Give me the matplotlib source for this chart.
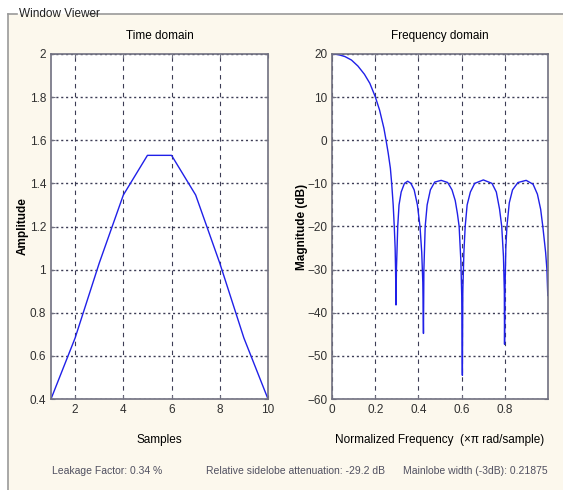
import matplotlib
matplotlib.use("Agg")
import matplotlib.pyplot as plt
from matplotlib.patches import Rectangle
from matplotlib.lines import Line2D

plt.rcParams['font.family'] = ['Liberation Sans', 'DejaVu Sans']

# time domain window samples
samples = [1, 2, 3, 4, 5, 6, 7, 8, 9, 10]
amplitude = [0.40, 0.683, 1.03, 1.346, 1.53, 1.53, 1.346, 1.03, 0.683, 0.40]

# frequency response
freq = [0.0, 0.03, 0.06, 0.09, 0.12, 0.15, 0.175, 0.2, 0.22, 0.24, 0.25, 0.26, 0.27,
        0.276, 0.283, 0.288, 0.292, 0.294, 0.296,
        0.298, 0.304, 0.31, 0.32, 0.335, 0.35, 0.365, 0.38, 0.395, 0.407, 0.415, 0.42, 0.423,
        0.425, 0.431, 0.44, 0.455, 0.475, 0.505, 0.535, 0.555, 0.57, 0.58, 0.588, 0.596, 0.6, 0.603,
        0.605, 0.61, 0.616, 0.625, 0.64, 0.66, 0.70, 0.74, 0.76, 0.775, 0.785, 0.793, 0.797, 0.798,
        0.80, 0.804, 0.809, 0.82, 0.835, 0.86, 0.898, 0.93, 0.95, 0.965, 0.975, 0.988, 0.994, 0.998]
mag_db = [20.0, 19.85, 19.4, 18.6, 17.2, 15.3, 13.2, 10.1, 7.0, 2.8, 0.0, -3.0, -6.5,
          -10.0, -15.0, -20.0, -25.0, -30.0, -38.2,
          -30.0, -20.0, -15.0, -12.0, -10.0, -9.5, -10.0, -11.5, -15.0, -20.0, -26.0, -33.0, -44.8,
          -30.0, -20.0, -15.0, -11.5, -9.7, -9.3, -9.8, -11.5, -14.0, -17.0, -20.0, -28.0, -36.0, -54.5,
          -35.0, -26.0, -20.0, -15.0, -12.0, -10.0, -9.2, -10.0, -12.0, -16.0, -20.0, -27.0, -35.0, -47.3,
          -35.0, -25.0, -20.0, -14.5, -11.5, -9.8, -9.3, -10.2, -12.5, -16.0, -20.0, -26.0, -30.0, -36.0]

time_yticks = [0.4, 0.6, 0.8, 1.0, 1.2, 1.4, 1.6, 1.8, 2.0]
time_ylabels = ['0.4', '0.6', '0.8', '1', '1.2', '1.4', '1.6', '1.8', '2']
time_xticks = [2, 4, 6, 8, 10]
freq_xticks = [0, 0.2, 0.4, 0.6, 0.8]
freq_xlabels = ['0', '0.2', '0.4', '0.6', '0.8']
freq_yticks = [-60, -50, -40, -30, -20, -10, 0, 10, 20]

bg = '#fcf8ed'
line_col = '#2020e8'
grid_col = '#3c3c55'
spine_col = '#707080'
fs = 8.5

fig = plt.figure(figsize=(5.63, 4.90), dpi=100)
fig.patch.set_facecolor('white')

W, H = 563.0, 490.0
fig.patches.append(Rectangle((8 / W, 0), 1 - 8 / W, 1 - 14 / H, transform=fig.transFigure,
                             facecolor=bg, edgecolor='none', zorder=-5))
fr = dict(transform=fig.transFigure, color='#9a9a9a', lw=1.2)
fig.lines.append(Line2D([8 / W, 8 / W], [0, 1 - 14 / H], **fr))
fig.lines.append(Line2D([8 / W, 17 / W], [1 - 14 / H, 1 - 14 / H], **fr))
fig.lines.append(Line2D([89 / W, 1], [1 - 14 / H, 1 - 14 / H], **fr))
fig.text(19 / W, 1 - 14 / H, 'Window Viewer', fontsize=fs, va='center', ha='left', color='#202020')


def style(ax):
    ax.set_facecolor('white')
    for s in ax.spines.values():
        s.set_color(spine_col)
        s.set_linewidth(1.2)
    ax.tick_params(direction='in', length=3, color=spine_col, labelsize=fs,
                   labelcolor='#303030', top=True, right=True)
    ax.xaxis.grid(True, color=grid_col, linestyle=(0, (4, 4)), linewidth=0.8)
    ax.yaxis.grid(True, color=grid_col, linestyle=(0, (1.5, 2)), linewidth=1.0)
    ax.set_axisbelow(True)


ax1 = fig.add_axes([51 / W, 1 - 399 / H, 217 / W, 345 / H])
ax1.plot(samples, amplitude, color=line_col, lw=1.0)
ax1.set_xlim(1, 10)
ax1.set_ylim(0.4, 2.0)
ax1.set_xticks(time_xticks)
ax1.set_yticks(time_yticks)
ax1.set_yticklabels(time_ylabels)
style(ax1)
ax1.set_title('Time domain', fontsize=fs, pad=11)
ax1.set_xlabel('Samples', fontsize=fs, labelpad=13)
ax1.set_ylabel('Amplitude', fontsize=fs, fontweight='bold')
ax1.yaxis.set_label_coords(-0.105, 0.5)

ax2 = fig.add_axes([332 / W, 1 - 399 / H, 216 / W, 345 / H])
ax2.plot(freq, mag_db, color=line_col, lw=1.0)
ax2.set_xlim(0, 0.999)
ax2.set_ylim(-60, 20)
ax2.set_xticks(freq_xticks)
ax2.set_xticklabels(freq_xlabels)
ax2.set_yticks(freq_yticks)
style(ax2)
ax2.set_title('Frequency domain', fontsize=fs, pad=11)
ax2.set_xlabel('Normalized Frequency  (\u00d7\u03c0 rad/sample)', fontsize=fs, labelpad=13)
ax2.set_ylabel('Magnitude (dB)', fontsize=fs, fontweight='bold')
ax2.yaxis.set_label_coords(-0.11, 0.5)

ty = 1 - 471 / H
bfs = 7.5
fig.text(107 / W, ty, 'Leakage Factor: 0.34 %', fontsize=bfs, va='center', ha='center', color='#505060')
fig.text(295 / W, ty, 'Relative sidelobe attenuation: -29.2 dB', fontsize=bfs, va='center',
         ha='center', color='#505060')
fig.text(548 / W, ty, 'Mainlobe width (-3dB): 0.21875', fontsize=bfs, va='center', ha='right',
         color='#505060')

fig.savefig('out.png', dpi=100, facecolor=fig.get_facecolor())
